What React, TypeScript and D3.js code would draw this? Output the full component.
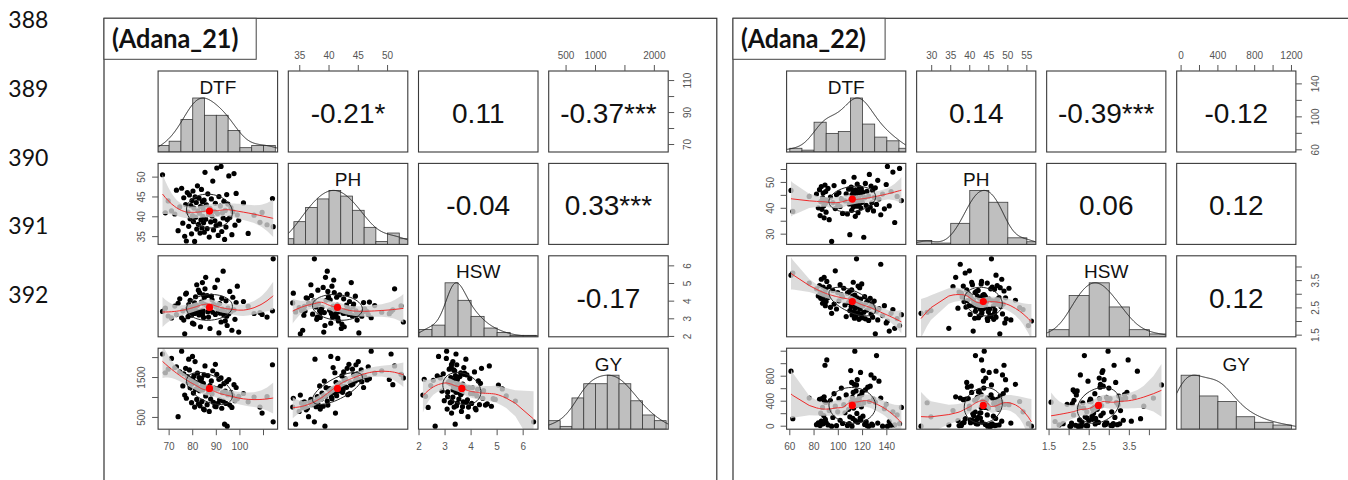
import React, { useEffect } from "react";
import * as d3 from "d3";

// ---------------- data ----------------
const lineNumbers = ["388", "389", "390", "391", "392"];
const titles = ["(Adana_21)", "(Adana_22)"];
const varNames = ["DTF", "PH", "HSW", "GY"];

// Adana_21 observations (DTF, PH, HSW, GY)
const a21DTF = [67.2,68.4,69.6,71.0,72.4,73.1,73.8,74.5,75.3,75.8,76.2,76.6,77.0,77.3,77.7,78.0,78.3,78.6,78.9,79.2,79.5,79.7,79.9,80.1,80.3,80.5,80.8,81.0,81.2,81.5,81.7,82.0,82.2,82.4,82.7,82.9,83.1,83.3,83.5,83.7,83.9,84.1,84.3,84.5,84.6,84.8,84.9,84.2,85.2,85.5,85.8,86.1,86.4,86.7,87.0,87.3,87.6,87.9,88.2,88.5,88.8,89.1,89.4,89.6,89.9,90.2,90.5,90.8,91.1,91.4,91.7,92.0,92.3,92.6,92.9,93.2,93.5,93.8,94.1,94.4,94.6,94.9,95.3,95.7,96.2,96.6,97.0,97.5,97.9,98.4,98.9,99.5,101.5,103.5,106.0,108.5,109.4,111.5,113.8,114.1];
const a21PH = [50.6,41.0,44.0,41.5,40.7,46.7,36.5,42.5,47.2,38.4,44.8,35.1,43.1,33.9,46.1,41.2,37.6,45.5,39.5,42.8,35.7,44.1,40.3,46.5,38.8,42.2,33.8,45.0,39.9,43.6,36.9,47.8,41.5,38.1,44.7,40.9,35.9,42.6,39.2,46.9,37.2,43.8,40.1,41.8,38.5,44.2,36.1,42.4,51.2,39.4,43.0,37.0,45.8,40.6,34.9,42.1,38.7,44.5,40.2,49.0,36.7,41.4,39.0,43.4,37.8,52.3,40.8,35.3,45.1,38.2,42.7,52.7,36.3,41.0,39.7,43.9,34.3,41.6,37.4,45.6,39.3,43.2,50.3,39.8,42.3,35.5,41.3,50.9,37.9,45.9,40.5,39.1,43.5,35.8,40.4,38.6,41.1,38.0,44.6,37.5];
const a21HSW = [3.42,3.60,3.16,3.05,3.72,3.24,3.88,4.13,3.06,3.45,2.93,2.15,4.40,4.45,3.57,3.12,3.80,3.33,4.05,3.48,3.20,3.68,2.75,3.41,3.65,2.70,3.90,3.30,4.25,3.46,4.93,3.75,3.38,4.62,3.22,4.48,3.44,2.55,3.35,3.95,3.26,5.05,3.49,4.36,3.08,3.84,4.19,3.31,4.70,5.35,3.77,4.32,3.40,3.10,3.63,2.45,3.53,4.28,4.08,3.37,3.82,3.78,4.78,3.25,3.67,3.73,5.20,3.47,2.20,3.86,3.32,2.82,4.16,3.55,5.70,3.21,3.39,2.88,4.02,3.15,2.62,3.60,3.29,4.55,3.42,2.35,4.22,3.51,2.97,3.92,4.85,2.25,3.98,3.70,3.30,3.35,3.25,3.10,3.45,6.40];
const a21GY = [2090,1620,1710,1980,1750,1770,520,1640,2160,1290,1595,1060,1730,980,1525,1380,1960,1690,1245,1465,870,1335,2030,1440,1110,1540,760,1900,1205,1370,950,1610,1265,840,1500,1170,790,1430,1410,1475,900,1310,1225,1355,710,1565,690,1190,1790,1040,1255,820,1550,1140,650,1300,960,1415,1095,1670,880,1235,780,1830,770,1580,1215,860,1455,940,1280,1490,730,1120,910,1345,330,1160,850,1395,280,1070,1450,810,1130,750,1045,1320,920,1250,970,1030,1100,890,1010,760,610,1020,1820,390];

// Adana_22 observations (DTF, PH, HSW, GY)
const a22DTF = [61.0,62.5,76.0,82.0,83.5,84.5,85.0,85.5,86.0,86.5,87.0,87.5,88.0,88.3,88.6,89.0,89.3,89.6,89.9,90.5,91.5,92.5,93.5,94.5,95.5,96.5,97.5,98.5,99.5,100.5,101.5,102.5,103.5,104.5,105.5,106.5,107.5,108.5,109.0,109.5,110.2,110.6,111.0,111.3,111.6,112.0,112.3,112.6,113.0,113.3,113.6,114.0,114.3,114.6,115.0,115.3,115.6,116.0,116.3,116.6,117.0,117.3,117.6,118.0,118.3,118.6,119.0,119.3,119.7,120.3,121.0,121.7,122.3,123.0,123.6,124.3,125.0,125.6,126.3,127.0,127.6,128.3,129.0,129.6,130.5,131.5,132.5,133.5,135.0,136.5,138.0,139.5,140.5,142.0,143.5,145.0,146.5,148.5,150.5,152.0];
const a22PH = [46.9,38.8,44.6,45.5,40.2,47.2,37.2,42.6,48.4,39.6,44.0,45.9,41.0,36.3,43.4,49.0,41.9,46.5,38.5,43.1,47.7,35.6,44.3,27.2,42.2,48.8,39.9,45.2,41.4,46.0,40.7,43.7,38.0,50.3,42.9,45.6,37.8,47.4,41.7,29.8,43.5,48.2,39.2,45.3,42.0,46.8,40.5,44.9,52.0,41.3,43.8,36.9,47.1,42.5,45.7,40.8,49.4,43.2,38.3,44.4,46.3,41.6,48.0,42.8,45.1,40.1,47.5,43.0,42.3,46.2,28.8,44.1,49.6,41.1,46.6,39.4,44.7,53.1,40.4,48.6,42.1,46.9,39.0,44.2,47.9,41.5,50.8,43.6,37.5,45.5,39.8,49.2,56.2,40.9,46.5,54.0,34.5,44.6,55.4,43.0];
const a22HSW = [3.70,3.78,3.41,3.20,2.94,3.32,3.08,2.85,3.55,3.02,2.67,3.26,2.79,3.62,2.96,3.12,2.58,3.18,2.73,3.47,2.88,3.28,2.52,2.30,3.14,2.64,3.86,2.46,3.06,2.76,3.35,2.99,2.90,3.22,2.61,2.18,3.04,2.70,3.10,2.40,2.84,2.55,3.16,2.24,2.93,2.66,3.44,2.36,2.78,2.12,2.97,2.49,2.81,2.20,4.30,2.60,2.87,2.32,3.30,2.72,2.08,2.54,3.24,2.45,2.82,2.26,2.63,3.38,2.14,2.57,2.34,2.91,2.10,2.69,2.42,2.77,2.04,2.51,2.85,2.28,2.65,2.16,2.53,2.75,1.55,2.38,2.06,2.47,4.10,2.22,2.58,1.95,2.02,1.65,2.30,2.44,1.75,2.11,1.85,2.25];
const a22GY = [880,120,450,25,55,430,10,210,80,440,300,38,170,470,400,975,110,380,60,1060,20,250,410,0,140,520,320,8,230,440,95,610,45,345,215,500,12,270,40,150,890,390,700,0,460,125,540,290,670,415,1200,90,330,565,660,205,745,65,425,345,360,420,480,130,860,100,310,505,550,160,375,28,580,70,10,625,0,395,640,820,35,15,435,770,385,1130,50,720,450,0,280,350,0,75,15,230,20,180,40,300];

// correlation texts (upper panels, row by row)
const a21Corr = ["-0.21*", "0.11", "-0.37***", "-0.04", "0.33***", "-0.17"];
const a22Corr = ["0.14", "-0.39***", "-0.12", "0.06", "0.12", "0.12"];

// axis ticks and labels, Adana_21
const a21TicksDTF = [70, 80, 90, 100, 110];
const a21TicksPH = [35, 40, 45, 50];
const a21TicksHSW = [2, 3, 4, 5, 6];
const a21TicksGY = [500, 1000, 1500, 2000];
const a21LabTopPH = ["35", "40", "45", "50"];
const a21LabTopGY = ["500", "1000", "", "2000"];
const a21LabRightDTF = ["70", "", "90", "", "110"];
const a21LabRightHSW = ["2", "3", "4", "5", "6"];
const a21LabLeftPH = ["35", "40", "45", "50"];
const a21LabLeftGY = ["500", "", "1500", ""];
const a21LabBottomDTF = ["70", "80", "90", "100", ""];
const a21LabBottomHSW = ["2", "3", "4", "5", "6"];

// axis ticks and labels, Adana_22
const a22TicksDTF = [60, 80, 100, 120, 140];
const a22TicksPH = [30, 35, 40, 45, 50, 55];
const a22TicksHSW = [1.5, 2, 2.5, 3, 3.5, 4];
const a22TicksGY = [0, 200, 400, 600, 800, 1000, 1200];
const a22LabTopPH = ["30", "35", "40", "45", "50", "55"];
const a22LabTopGY = ["0", "", "400", "", "800", "", "1200"];
const a22LabRightDTF = ["60", "", "100", "", "140"];
const a22LabRightHSW = ["1.5", "", "2.5", "", "3.5", ""];
const a22LabLeftPH = ["30", "", "40", "", "50", ""];
const a22LabLeftGY = ["0", "", "400", "", "800", "", ""];
const a22LabBottomDTF = ["60", "80", "100", "120", "140"];
const a22LabBottomHSW = ["1.5", "", "2.5", "", "3.5", ""];

// ---------------- layout ----------------
const ROW_Y0 = 71;
const ROW_PITCH = 92.4;
const PANEL_H = 81;
const SANS = "'Liberation Sans', Arial, Helvetica, sans-serif";

// ---------------- statistics ----------------
function inv3(m: number[][]) {
  const [a, b, c] = m[0], [d, e, f] = m[1], [g, h, i] = m[2];
  const A = e * i - f * h, B = -(d * i - f * g), C = d * h - e * g;
  const det = a * A + b * B + c * C;
  return [A / det, -(b * i - c * h) / det, (b * f - c * e) / det];
}

function loessBand(xsIn: number[], ysIn: number[], span = 0.75) {
  const n = xsIn.length;
  const idx = d3.range(n).sort((a, b) => xsIn[a] - xsIn[b]);
  const X = idx.map((k) => xsIn[k]);
  const Y = idx.map((k) => ysIn[k]);
  const q = Math.floor(n * span);
  const fit: number[] = [];
  const ss: number[] = [];
  let trL = 0, sumL2 = 0;
  for (let i = 0; i < n; i++) {
    const x0 = X[i];
    const dist = X.map((x) => Math.abs(x - x0));
    const sorted = dist.slice().sort((a, b) => a - b);
    let h = sorted[q - 1];
    if (!(h > 0)) h = 1e-9;
    const w = dist.map((v) => {
      const u = v / h;
      return u < 1 ? Math.pow(1 - u * u * u, 3) : 0;
    });
    let s0 = 0, s1 = 0, s2 = 0, s3 = 0, s4 = 0;
    for (let j = 0; j < n; j++) {
      const t = X[j] - x0, wj = w[j];
      s0 += wj; s1 += wj * t; s2 += wj * t * t; s3 += wj * t * t * t; s4 += wj * t * t * t * t;
    }
    const r = inv3([[s0, s1, s2], [s1, s2, s3], [s2, s3, s4]]);
    let f = 0, l2 = 0;
    for (let j = 0; j < n; j++) {
      const t = X[j] - x0;
      const lij = w[j] * (r[0] + r[1] * t + r[2] * t * t);
      f += lij * Y[j];
      l2 += lij * lij;
      if (j === i) trL += lij;
    }
    fit.push(f);
    ss.push(l2);
    sumL2 += l2;
  }
  let rss = 0;
  for (let i = 0; i < n; i++) rss += (Y[i] - fit[i]) ** 2;
  const delta1 = n - 2 * trL + sumL2;
  const s = Math.sqrt(rss / delta1);
  const tq = 1.98;
  return X.map((x, i) => ({
    x,
    fit: fit[i],
    lo: fit[i] - tq * s * Math.sqrt(ss[i]),
    hi: fit[i] + tq * s * Math.sqrt(ss[i]),
  }));
}

function densityCurve(v: number[]) {
  const n = v.length;
  const sd = d3.deviation(v) as number;
  const srt = v.slice().sort(d3.ascending);
  const iqr = (d3.quantileSorted(srt, 0.75) as number) - (d3.quantileSorted(srt, 0.25) as number);
  const bw = 1.06 * Math.min(sd, iqr / 1.34) * Math.pow(n, -0.2) * 1.2;
  const lo = (d3.min(v) as number) - 3 * bw, hi = (d3.max(v) as number) + 3 * bw;
  const pts = d3.range(512).map((k) => {
    const x = lo + ((hi - lo) * k) / 511;
    let s = 0;
    for (const xi of v) {
      const u = (x - xi) / bw;
      s += Math.exp(-0.5 * u * u);
    }
    return [x, s];
  });
  const m = d3.max(pts, (p) => p[1]) as number;
  return pts.map((p) => [p[0], p[1] / m]);
}

function histogram(v: number[]) {
  const lo = d3.min(v) as number, hi = d3.max(v) as number;
  const step = d3.tickStep(lo, hi, 8);
  const start = Math.floor(lo / step) * step;
  const end = Math.ceil(hi / step) * step;
  const nb = Math.round((end - start) / step);
  const bins = d3.range(nb).map((k) => ({ x0: start + k * step, x1: start + (k + 1) * step, c: 0 }));
  for (const x of v) {
    let k = Math.ceil((x - start) / step - 1e-9) - 1;
    if (k < 0) k = 0;
    if (k >= nb) k = nb - 1;
    bins[k].c += 1;
  }
  return bins;
}

// ---------------- components ----------------
function Matrix(props: any) {
  const { id, vals, corr, ticks, labTop, labBottom, labLeft, labRight, x0, pitch, pw } = props;
  const n = vals.length;
  const colX = (j: number) => x0 + j * pitch;
  const rowY = (i: number) => ROW_Y0 + i * ROW_PITCH;
  const doms = vals.map((v: number[]) => {
    const lo = d3.min(v) as number, hi = d3.max(v) as number;
    const e = (hi - lo) * 0.04;
    return [lo - e, hi + e];
  });
  const xS = vals.map((_: any, j: number) => d3.scaleLinear().domain(doms[j]).range([colX(j), colX(j) + pw]));
  const yS = vals.map((_: any, i: number) => d3.scaleLinear().domain(doms[i]).range([rowY(i) + PANEL_H, rowY(i)]));

  const defs: any[] = [];
  const panels: any[] = [];
  let k = 0;
  for (let i = 0; i < n; i++) {
    for (let j = 0; j < n; j++) {
      const px = colX(j), py = rowY(i);
      const cid = `${id}-clip-${i}-${j}`;
      defs.push(
        <clipPath id={cid} key={cid}>
          <rect x={px} y={py} width={pw} height={PANEL_H} />
        </clipPath>
      );
      const content: any[] = [];
      if (i === j) {
        const bins = histogram(vals[i]);
        const maxC = d3.max(bins, (b) => b.c) as number;
        const hy = (f: number) => py + PANEL_H - (f / 1.5) * PANEL_H;
        bins.forEach((b, bi) => {
          const x1 = xS[j](b.x0), x2 = xS[j](b.x1);
          content.push(
            <rect key={`h${bi}`} x={x1} y={hy(b.c / maxC)} width={x2 - x1} height={py + PANEL_H - hy(b.c / maxC)}
              fill="#bfbfbf" stroke="#3c3c3c" strokeWidth={0.8} />
          );
        });
        const dens = densityCurve(vals[i]);
        const line = d3.line<number[]>().x((p) => xS[j](p[0])).y((p) => hy(p[1]));
        content.push(<path key="dens" d={line(dens) || ""} fill="none" stroke="#222" strokeWidth={1} />);
        panels.push(
          <g key={`p${i}${j}`}>
            <g clipPath={`url(#${cid})`}>{content}</g>
            <text x={px + pw / 2} y={py + 22.5} textAnchor="middle" fontFamily={SANS} fontSize={19} fill="#111">
              {varNames[i]}
            </text>
            <rect x={px} y={py} width={pw} height={PANEL_H} fill="none" stroke="#3a3a3a" strokeWidth={1.1} />
          </g>
        );
      } else if (i > j) {
        const xv = vals[j], yv = vals[i];
        const sx = xS[j], sy = yS[i];
        xv.forEach((x: number, t: number) => {
          content.push(<circle key={`pt${t}`} cx={sx(x)} cy={sy(yv[t])} r={2.6} fill="#000" />);
        });
        const band = loessBand(xv, yv);
        const area = d3.area<any>().x((d) => sx(d.x)).y0((d) => sy(d.lo)).y1((d) => sy(d.hi));
        content.push(<path key="band" d={area(band) || ""} fill="#d3d3d3" fillOpacity={0.8} stroke="none" />);
        const fl = d3.line<any>().x((d) => sx(d.x)).y((d) => sy(d.fit));
        content.push(<path key="fit" d={fl(band) || ""} fill="none" stroke="#ee2a2a" strokeWidth={1} />);
        const xm = d3.mean(xv) as number, ym = d3.mean(yv) as number;
        const xsd = d3.deviation(xv) as number, ysd = d3.deviation(yv) as number;
        let sxy = 0;
        for (let t = 0; t < xv.length; t++) sxy += (xv[t] - xm) * (yv[t] - ym);
        const r = sxy / (xv.length - 1) / (xsd * ysd);
        const th = r !== 0 ? Math.sign(r) / Math.SQRT2 : 1 / Math.SQRT2;
        const a1 = Math.sqrt(1 + r) * th, a2 = Math.sqrt(1 - r) * th;
        const ell = d3.range(52).map((s) => {
          const ang = (s * 2 * Math.PI) / 51;
          const ex = Math.cos(ang) * a1 - Math.sin(ang) * a2;
          const ey = Math.cos(ang) * a1 + Math.sin(ang) * a2;
          return [sx(ex * xsd + xm), sy(ey * ysd + ym)];
        });
        content.push(<path key="ell" d={d3.line()(ell as any) || ""} fill="none" stroke="#262626" strokeWidth={1} />);
        content.push(<circle key="mean" cx={sx(xm)} cy={sy(ym)} r={3.6} fill="#ff0000" />);
        panels.push(
          <g key={`p${i}${j}`}>
            <g clipPath={`url(#${cid})`}>{content}</g>
            <rect x={px} y={py} width={pw} height={PANEL_H} fill="none" stroke="#3a3a3a" strokeWidth={1.1} />
          </g>
        );
      } else {
        const txt = corr[k++];
        panels.push(
          <g key={`p${i}${j}`}>
            <text x={px + pw / 2} y={py + PANEL_H / 2 + 11.5} textAnchor="middle" fontFamily={SANS} fontSize={28} fill="#111">
              {txt}
            </text>
            <rect x={px} y={py} width={pw} height={PANEL_H} fill="none" stroke="#3a3a3a" strokeWidth={1.1} />
          </g>
        );
      }
    }
  }

  const axes: any[] = [];
  const tickCol = "#555";
  const tickFont = 10;
  [1, 3].forEach((j) => {
    const top = rowY(0);
    ticks[j].forEach((t: number, q: number) => {
      const x = xS[j](t);
      axes.push(<line key={`t${j}-${q}`} x1={x} x2={x} y1={top} y2={top - 6} stroke={tickCol} strokeWidth={1} />);
      if (labTop[j][q]) axes.push(
        <text key={`tl${j}-${q}`} x={x} y={top - 12} textAnchor="middle" fontFamily={SANS} fontSize={tickFont} fill={tickCol}>{labTop[j][q]}</text>
      );
    });
  });
  [0, 2].forEach((j) => {
    const bot = rowY(n - 1) + PANEL_H;
    ticks[j].forEach((t: number, q: number) => {
      const x = xS[j](t);
      axes.push(<line key={`b${j}-${q}`} x1={x} x2={x} y1={bot} y2={bot + 6} stroke={tickCol} strokeWidth={1} />);
      if (labBottom[j][q]) axes.push(
        <text key={`bl${j}-${q}`} x={x} y={bot + 21} textAnchor="middle" fontFamily={SANS} fontSize={tickFont} fill={tickCol}>{labBottom[j][q]}</text>
      );
    });
  });
  [1, 3].forEach((i) => {
    const left = colX(0);
    ticks[i].forEach((t: number, q: number) => {
      const y = yS[i](t);
      axes.push(<line key={`l${i}-${q}`} x1={left} x2={left - 6} y1={y} y2={y} stroke={tickCol} strokeWidth={1} />);
      if (labLeft[i][q]) axes.push(
        <text key={`ll${i}-${q}`} transform={`translate(${left - 13},${y}) rotate(-90)`} textAnchor="middle" fontFamily={SANS} fontSize={tickFont} fill={tickCol}>{labLeft[i][q]}</text>
      );
    });
  });
  [0, 2].forEach((i) => {
    const right = colX(n - 1) + pw;
    ticks[i].forEach((t: number, q: number) => {
      const y = yS[i](t);
      axes.push(<line key={`r${i}-${q}`} x1={right} x2={right + 6} y1={y} y2={y} stroke={tickCol} strokeWidth={1} />);
      if (labRight[i][q]) axes.push(
        <text key={`rl${i}-${q}`} transform={`translate(${right + 23},${y}) rotate(-90)`} textAnchor="middle" fontFamily={SANS} fontSize={tickFont} fill={tickCol}>{labRight[i][q]}</text>
      );
    });
  });

  return (
    <g>
      <defs>{defs}</defs>
      {panels}
      {axes}
    </g>
  );
}

export default function App() {
  useEffect(() => {
    document.body.style.margin = "0";
  }, []);
  return (
    <svg width={1348} height={480} style={{ position: "absolute", left: 0, top: 0, display: "block" }}>
      <rect x={0} y={0} width={1348} height={480} fill="#ffffff" />
      {lineNumbers.map((t, k) => (
        <text key={t} x={8.3} y={28.3 + k * 68.6} fontFamily="Lato, 'Open Sans', sans-serif" fontSize={23} fill="#111">{t}</text>
      ))}

      <rect x={104} y={18.3} width={612.8} height={500} fill="none" stroke="#333" strokeWidth={1.2} />
      <rect x={104} y={18.3} width={152.2} height={41} fill="#fff" stroke="#444" strokeWidth={1} />
      <text x={111.9} y={48.3} fontFamily="Lato, 'Open Sans', sans-serif" fontWeight="bold" fontSize={27}
        textLength={126.5} lengthAdjust="spacingAndGlyphs" fill="#111">{titles[0]}</text>
      <Matrix id="a21" vals={[a21DTF, a21PH, a21HSW, a21GY]} corr={a21Corr}
        ticks={[a21TicksDTF, a21TicksPH, a21TicksHSW, a21TicksGY]}
        labTop={[null, a21LabTopPH, null, a21LabTopGY]}
        labBottom={[a21LabBottomDTF, null, a21LabBottomHSW, null]}
        labLeft={[null, a21LabLeftPH, null, a21LabLeftGY]}
        labRight={[a21LabRightDTF, null, a21LabRightHSW, null]}
        x0={158.1} pitch={130.2} pw={119.5} />

      <rect x={733} y={18.3} width={640} height={500} fill="none" stroke="#333" strokeWidth={1.2} />
      <rect x={733} y={18.3} width={152.1} height={41} fill="#fff" stroke="#444" strokeWidth={1} />
      <text x={740.9} y={48.3} fontFamily="Lato, 'Open Sans', sans-serif" fontWeight="bold" fontSize={27}
        textLength={125.1} lengthAdjust="spacingAndGlyphs" fill="#111">{titles[1]}</text>
      <Matrix id="a22" vals={[a22DTF, a22PH, a22HSW, a22GY]} corr={a22Corr}
        ticks={[a22TicksDTF, a22TicksPH, a22TicksHSW, a22TicksGY]}
        labTop={[null, a22LabTopPH, null, a22LabTopGY]}
        labBottom={[a22LabBottomDTF, null, a22LabBottomHSW, null]}
        labLeft={[null, a22LabLeftPH, null, a22LabLeftGY]}
        labRight={[a22LabRightDTF, null, a22LabRightHSW, null]}
        x0={786.6} pitch={130.03} pw={119.2} />
    </svg>
  );
}
